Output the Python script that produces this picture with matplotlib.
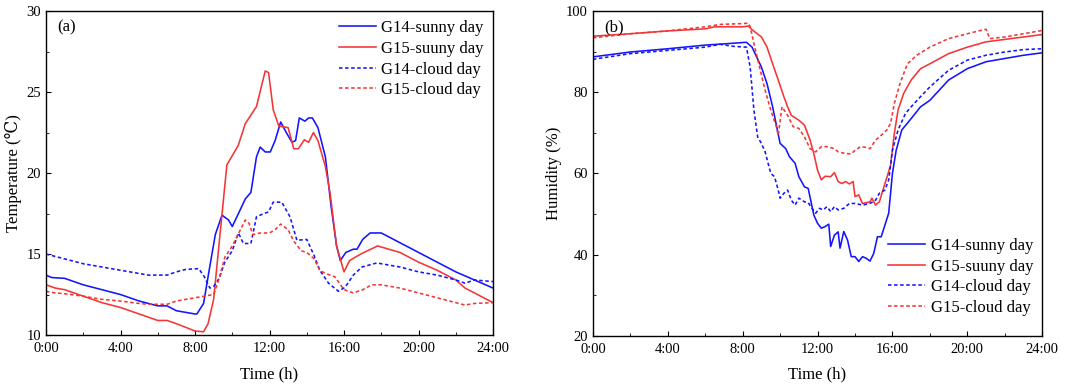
import matplotlib
matplotlib.use("Agg")
import matplotlib.pyplot as plt
from matplotlib.ticker import MultipleLocator, FuncFormatter

plt.rcParams['font.family'] = ['Liberation Serif', 'DejaVu Serif']

# ---- (a) temperature, hours vs degC ----
t_g14_sun = [0, 0.3, 1, 2, 3, 4, 5, 6, 6.5, 7, 8, 8.1, 8.46, 8.73, 9.09, 9.45, 9.8, 10.0, 10.25,
             10.7, 11.0, 11.3, 11.5, 11.77, 12.04, 12.3, 12.6, 12.9, 13.2, 13.4, 13.6, 13.9, 14.1,
             14.3, 14.6, 15.0, 15.3, 15.6, 15.8, 16.1, 16.5, 16.7, 17.0, 17.4, 18.0, 18.5, 19, 20,
             21, 22, 23, 24]
temp_g14_sun = [13.7, 13.55, 13.5, 13.1, 12.8, 12.5, 12.1, 11.8, 11.8, 11.5, 11.3, 11.3, 11.95, 13.8,
                16.2, 17.4, 17.1, 16.7, 17.3, 18.4, 18.8, 21.0, 21.6, 21.3, 21.3, 22.0, 23.15, 22.5,
                21.9, 22.0, 23.4, 23.2, 23.4, 23.4, 22.8, 21.0, 18.0, 15.5, 14.6, 15.1, 15.3, 15.3,
                15.9, 16.3, 16.3, 16.0, 15.7, 15.1, 14.5, 13.9, 13.4, 12.9]

t_g15_sun = [0, 0.5, 1, 2, 3, 4, 5, 6, 6.5, 7, 8, 8.46, 8.7, 9.0, 9.35, 9.71, 10.32, 10.7, 11.3,
             11.77, 11.95, 12.2, 12.5, 13.0, 13.3, 13.55, 13.87, 14.1, 14.36, 14.6, 15.0, 15.26,
             15.6, 16.0, 16.3, 16.9, 17.8, 18.1, 19, 20, 21, 22, 22.5, 23, 24]
temp_g15_sun = [13.1, 12.9, 12.8, 12.4, 12.0, 11.7, 11.3, 10.9, 10.9, 10.7, 10.25, 10.2, 10.7, 12.2,
                16.3, 20.5, 21.7, 23.05, 24.1, 26.3, 26.2, 23.9, 22.9, 22.8, 21.5, 21.5, 22.05,
                21.9, 22.5, 22.0, 20.4, 18.7, 15.5, 13.9, 14.6, 15.0, 15.5, 15.4, 15.1, 14.5,
                14.0, 13.4, 12.9, 12.6, 12.0]

t_g14_cld = [0, 1, 2, 3, 4, 5, 5.5, 6, 6.5, 7, 7.5, 8.2, 8.5, 8.8, 9.0, 9.3, 9.6, 10.0, 10.33,
             10.6, 11.0, 11.3, 11.7, 11.95, 12.2, 12.66, 13.1, 13.47, 14.0, 14.36, 14.7, 15.17,
             15.7, 16.06, 16.5, 16.96, 17.76, 18.5, 19, 20, 21, 22, 22.5, 23, 24]
temp_g14_cld = [15.0, 14.7, 14.4, 14.2, 14.0, 13.8, 13.7, 13.7, 13.7, 13.9, 14.05, 14.1, 13.6, 12.9,
                13.0, 13.5, 14.5, 15.2, 16.3, 15.65, 15.65, 17.3, 17.5, 17.6, 18.2, 18.2, 17.3,
                15.85, 15.9, 15.0, 14.0, 13.2, 12.7, 12.95, 13.7, 14.2, 14.45, 14.3, 14.2, 13.9,
                13.7, 13.4, 13.2, 13.4, 13.3]

t_g15_cld = [0, 0.5, 1, 2, 3, 4, 5, 5.5, 6.5, 7, 8, 8.5, 9.0, 9.3, 9.6, 10.0, 10.7, 10.9, 11.1,
             11.5, 12.0, 12.3, 12.6, 13.0, 13.3, 13.7, 14.0, 14.4, 14.7, 15.0, 15.5, 16.0, 16.5,
             17.0, 17.5, 18.0, 18.5, 19, 20, 21, 22, 22.5, 23, 24]
temp_g15_cld = [12.7, 12.6, 12.55, 12.4, 12.2, 12.1, 11.95, 11.9, 11.9, 12.1, 12.3, 12.4, 12.5, 13.5,
                14.8, 15.5, 17.1, 16.9, 16.2, 16.3, 16.3, 16.5, 16.85, 16.5, 15.8, 15.2, 15.1,
                14.7, 14.0, 13.8, 13.6, 12.8, 12.6, 12.8, 13.1, 13.1, 13.0, 12.9, 12.6, 12.3,
                12.0, 11.85, 11.95, 12.0]

# ---- (b) humidity, hours vs % ----
h_g14_sun = [0, 2, 4, 6, 7, 8.2, 8.5, 9.0, 9.3, 9.6, 10.0, 10.3, 10.5, 10.8, 11.0, 11.3, 11.5, 11.8,
             12.0, 12.2, 12.4, 12.6, 12.7, 12.9, 13.1, 13.2, 13.4, 13.6, 13.8, 14.0, 14.2, 14.4,
             14.6, 14.8, 15.0, 15.2, 15.4, 15.6, 15.8, 16.0, 16.2, 16.5, 17, 17.5, 18, 19, 20, 21,
             22, 23, 24]
hum_g14_sun = [88.7, 89.9, 90.7, 91.6, 91.9, 92.3, 91.1, 86.2, 82.1, 76.4, 67.4, 66.1, 64.1, 62.5,
               59.2, 56.7, 56.3, 49.75, 47.7, 46.5, 46.9, 47.5, 42.0, 44.8, 45.6, 41.6, 45.7, 43.6,
               39.5, 39.5, 38.3, 39.5, 39.1, 38.4, 40.3, 44.4, 44.4, 47.3, 50.2, 60.0, 65.7, 70.7,
               73.5, 76.4, 78.0, 83.0, 85.8, 87.5, 88.3, 89.1, 89.7]

h_g15_sun = [0, 2, 4, 6, 6.5, 8, 8.3, 8.5, 9.0, 9.3, 9.6, 9.9, 10.2, 10.4, 10.6, 11.0, 11.3, 11.6,
             11.8, 12.0, 12.2, 12.4, 12.7, 12.9, 13.1, 13.3, 13.5, 13.7, 13.9, 14.0, 14.2, 14.4,
             14.6, 14.8, 14.9, 15.1, 15.3, 15.6, 15.9, 16.1, 16.3, 16.6, 17, 17.5, 18, 19, 20, 21,
             22, 23, 24]
hum_g15_sun = [93.8, 94.4, 95.1, 95.6, 96.1, 96.1, 96.3, 95.4, 93.6, 91.1, 87.0, 83.0, 78.9, 76.4,
               74.3, 73.1, 71.9, 68.2, 64.9, 60.8, 58.4, 59.3, 59.2, 60.2, 58.0, 57.5, 58.0, 57.4,
               58.0, 54.3, 54.7, 52.6, 52.8, 53.0, 53.9, 52.2, 53.0, 57.5, 62.0, 69.8, 75.6, 79.7,
               83.0, 85.8, 87.0, 89.5, 91.1, 92.4, 93.0, 93.6, 94.2]

h_g14_cld = [0, 2, 4, 6, 6.8, 7.5, 8.2, 8.4, 8.6, 8.8, 9.0, 9.2, 9.5, 9.7, 9.9, 10.0, 10.2, 10.4,
             10.6, 10.8, 11.0, 11.3, 11.5, 11.7, 11.9, 12.1, 12.3, 12.5, 12.7, 12.9, 13.1, 13.4,
             13.7, 14.0, 14.4, 14.8, 15.1, 15.3, 15.6, 15.8, 16.0, 16.3, 16.7, 17, 17.5, 18, 19,
             20, 21, 22, 23, 24]
hum_g14_cld = [88.1, 89.5, 90.3, 91.1, 91.8, 91.3, 91.1, 86.2, 75.6, 69.0, 67.4, 65.3, 60.0, 59.2,
               55.9, 53.9, 55.1, 55.9, 53.4, 52.2, 53.9, 53.0, 52.8, 51.4, 50.2, 51.4, 51.0, 51.8,
               50.6, 51.8, 51.0, 51.4, 52.6, 52.6, 52.2, 52.6, 53.4, 55.1, 55.9, 58.4, 65.7, 70.7,
               74.8, 76.4, 78.9, 81.3, 85.4, 87.9, 89.1, 89.9, 90.5, 90.7]

h_g15_cld = [0, 2, 4, 6, 6.8, 8.0, 8.3, 8.4, 8.6, 8.9, 9.2, 9.5, 9.8, 9.9, 10.1, 10.4, 10.7, 11.0,
             11.3, 11.6, 11.9, 12.2, 12.5, 12.9, 13.1, 13.5, 13.8, 14.0, 14.3, 14.6, 14.8, 15.1,
             15.4, 15.7, 15.9, 16.1, 16.4, 16.8, 17.3, 18, 19, 20, 20.7, 21.0, 21.2, 22, 23, 24]
hum_g15_cld = [93.4, 94.4, 95.1, 96.1, 96.7, 96.9, 97.0, 96.1, 92.0, 86.2, 80.5, 75.6, 71.5, 69.4,
               76.4, 74.3, 71.5, 71.1, 69.0, 66.1, 65.3, 66.6, 66.6, 66.1, 65.3, 64.9, 64.8, 65.7,
               66.6, 66.4, 66.1, 68.2, 69.4, 70.7, 72.3, 77.2, 82.1, 87.0, 89.1, 91.1, 93.2, 94.4,
               95.2, 95.5, 93.2, 93.6, 94.4, 95.2]

labels = ["G14-sunny day", "G15-suuny day", "G14-cloud day", "G15-cloud day"]
blue = "#1414ff"
red = "#f53535"
dash = (0, (2.2, 1.6))

fig = plt.figure(figsize=(10.8, 3.86), dpi=100)
ax1 = fig.add_axes([0.0426, 0.132, 0.4139, 0.8395])
ax2 = fig.add_axes([0.549, 0.130, 0.416, 0.8415])


def style(ax):
    ax.set_xlim(0, 24)
    ax.xaxis.set_major_locator(MultipleLocator(4))
    ax.xaxis.set_minor_locator(MultipleLocator(2))
    ax.xaxis.set_major_formatter(FuncFormatter(lambda v, p: "%d:00" % v))
    ax.tick_params(which='both', direction='in', top=False, right=False, labelsize=10.5)
    ax.tick_params(which='major', length=3.5)
    ax.tick_params(which='minor', length=2)
    ax.tick_params(axis='x', pad=5)
    for s in ax.spines.values():
        s.set_linewidth(1.0)
    ax.set_xlabel("Time (h)", fontsize=12, labelpad=8)


lw = 1.15
ax1.plot(t_g14_sun, temp_g14_sun, color=blue, lw=lw, label=labels[0])
ax1.plot(t_g15_sun, temp_g15_sun, color=red, lw=lw, label=labels[1])
ax1.plot(t_g14_cld, temp_g14_cld, color=blue, lw=lw, ls=dash, label=labels[2])
ax1.plot(t_g15_cld, temp_g15_cld, color=red, lw=lw, ls=dash, label=labels[3])
style(ax1)
ax1.set_ylim(10, 30)
ax1.yaxis.set_major_locator(MultipleLocator(5))
ax1.yaxis.set_minor_locator(MultipleLocator(2.5))
ax1.set_ylabel("Temperature (\u2103)", fontsize=12, labelpad=3)
ax1.text(0.025, 0.975, "(a)", transform=ax1.transAxes, fontsize=12, va='top', ha='left')
ax1.legend(loc='upper right', frameon=False, fontsize=12, handlelength=2.2,
           handletextpad=0.35, labelspacing=0.28, borderaxespad=0.15)

ax2.plot(h_g14_sun, hum_g14_sun, color=blue, lw=lw, label=labels[0])
ax2.plot(h_g15_sun, hum_g15_sun, color=red, lw=lw, label=labels[1])
ax2.plot(h_g14_cld, hum_g14_cld, color=blue, lw=lw, ls=dash, label=labels[2])
ax2.plot(h_g15_cld, hum_g15_cld, color=red, lw=lw, ls=dash, label=labels[3])
style(ax2)
ax2.set_ylim(20, 100)
ax2.yaxis.set_major_locator(MultipleLocator(20))
ax2.yaxis.set_minor_locator(MultipleLocator(10))
ax2.set_ylabel("Humidity (%)", fontsize=12, labelpad=3)
ax2.text(0.025, 0.975, "(b)", transform=ax2.transAxes, fontsize=12, va='top', ha='left')
ax2.legend(loc='lower right', frameon=False, fontsize=12, handlelength=2.2,
           handletextpad=0.35, labelspacing=0.28, borderaxespad=0.15,
           bbox_to_anchor=(1.0, 0.033))

fig.savefig("out.png", dpi=100)
